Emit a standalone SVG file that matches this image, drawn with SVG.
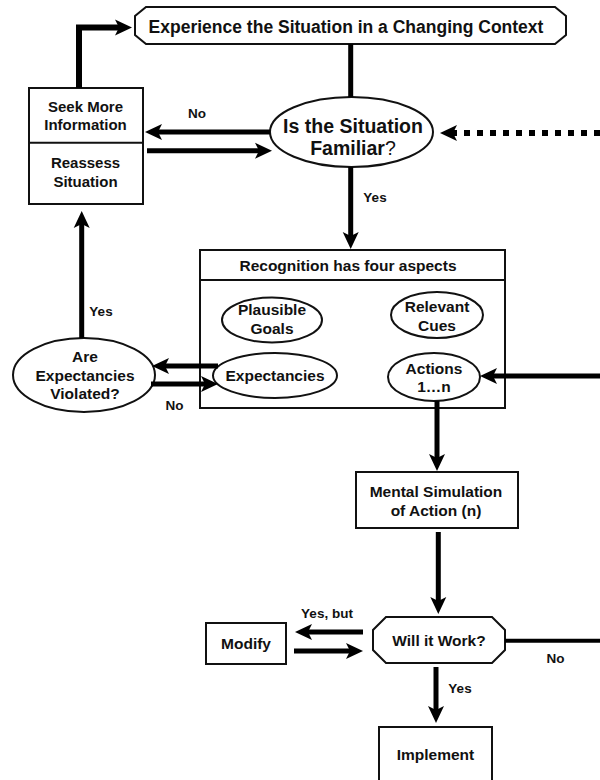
<svg xmlns="http://www.w3.org/2000/svg" width="600" height="780" viewBox="0 0 600 780">
<style>
.bx{fill:#fff;stroke:#111;stroke-width:2}
.t{font-family:"Liberation Sans",Arial,sans-serif;font-weight:bold;font-size:15.5px;fill:#111;text-anchor:middle}
.lb{font-family:"Liberation Sans",Arial,sans-serif;font-weight:bold;font-size:13.5px;fill:#111;text-anchor:middle}
.c{fill:none;stroke:#000;stroke-width:5}
</style>
<defs>
<marker id="ah" markerUnits="userSpaceOnUse" markerWidth="40" markerHeight="40" viewBox="-10 -20 40 40" refX="0" refY="0" orient="auto" overflow="visible">
<path d="M13,0 L-4,-8 L0,0 L-4,8 Z" fill="#000"/>
</marker>
</defs>
<rect width="600" height="780" fill="#fff"/>

<g id="experience">
<path class="bx" d="M146,7 H555 L566,16 V35 L555,44 H146 L135,35 V16 Z"/>
<text class="t" x="346" y="32.5" style="font-size:17.5px">Experience the Situation in a Changing Context</text>
</g>

<g id="familiar">
<ellipse class="bx" cx="351.5" cy="132" rx="81.5" ry="35"/>
<text class="t" x="353" y="133" style="font-size:19.5px">Is the Situation</text>
<text class="t" x="353" y="155" style="font-size:19.5px">Familiar<tspan style="font-weight:normal">?</tspan></text>
</g>

<g id="seek">
<rect class="bx" x="29" y="88" width="114" height="116"/>
<line x1="29" y1="142.7" x2="143" y2="142.7" stroke="#111" stroke-width="2"/>
<text class="t" x="85.5" y="111.5" style="font-size:15px">Seek More</text>
<text class="t" x="85.5" y="130" style="font-size:15px">Information</text>
<text class="t" x="85.5" y="168" style="font-size:15px">Reassess</text>
<text class="t" x="85.5" y="187" style="font-size:15px">Situation</text>
</g>

<g id="recognition">
<rect class="bx" x="200" y="250" width="305" height="158"/>
<line x1="200" y1="280" x2="505" y2="280" stroke="#111" stroke-width="2"/>
<text class="t" x="348" y="271">Recognition has four aspects</text>
</g>

<g id="goals">
<ellipse class="bx" cx="272" cy="320" rx="50" ry="22.5"/>
<text class="t" x="272" y="315">Plausible</text>
<text class="t" x="272" y="334">Goals</text>
</g>

<g id="cues">
<ellipse class="bx" cx="437" cy="315" rx="46" ry="23"/>
<text class="t" x="437" y="312">Relevant</text>
<text class="t" x="437" y="331">Cues</text>
</g>

<g id="expectancies">
<ellipse class="bx" cx="275" cy="375.5" rx="62" ry="22.5"/>
<text class="t" x="275" y="380.5">Expectancies</text>
</g>

<g id="actions">
<ellipse class="bx" cx="434" cy="377" rx="46" ry="24"/>
<text class="t" x="434" y="373.5">Actions</text>
<text class="t" x="434" y="392">1…n</text>
</g>

<g id="violated">
<ellipse class="bx" cx="84" cy="375" rx="71" ry="37"/>
<text class="t" x="85" y="362">Are</text>
<text class="t" x="85" y="380.5">Expectancies</text>
<text class="t" x="85" y="399">Violated?</text>
</g>

<g id="mental">
<rect class="bx" x="356" y="472" width="162" height="56"/>
<text class="t" x="436" y="497">Mental Simulation</text>
<text class="t" x="436" y="515.5">of Action (n)</text>
</g>

<g id="work">
<path class="bx" d="M386,617 H492 L505,630 V650 L492,663 H386 L373,650 V630 Z"/>
<text class="t" x="439" y="646">Will it Work?</text>
</g>

<g id="modify">
<rect class="bx" x="206" y="623" width="80" height="41"/>
<text class="t" x="246" y="649">Modify</text>
</g>

<g id="implement">
<rect class="bx" x="379" y="727" width="113" height="70"/>
<text class="t" x="435.5" y="760">Implement</text>
</g>

<g id="connectors">
<path class="c" style="stroke-width:6" d="M79,88 V27.5 H119" marker-end="url(#ah)"/>
<line class="c" x1="350.7" y1="44" x2="350.7" y2="97"/>
<line class="c" x1="270" y1="132" x2="158" y2="132" marker-end="url(#ah)"/>
<line class="c" x1="147" y1="150.7" x2="259" y2="150.7" marker-end="url(#ah)"/>
<line class="c" style="stroke-width:6;stroke-dasharray:6 7" x1="600" y1="133" x2="453" y2="133" marker-end="url(#ah)"/>
<line class="c" x1="350.7" y1="167" x2="350.7" y2="236" marker-end="url(#ah)"/>
<line class="c" x1="81.7" y1="338" x2="81.7" y2="224" marker-end="url(#ah)"/>
<line class="c" x1="218" y1="366" x2="165" y2="366" marker-end="url(#ah)"/>
<line class="c" x1="151" y1="384" x2="205" y2="384" marker-end="url(#ah)"/>
<line class="c" x1="600" y1="376" x2="493" y2="376" marker-end="url(#ah)"/>
<line class="c" x1="437" y1="401" x2="437" y2="458" marker-end="url(#ah)"/>
<line class="c" x1="438.3" y1="532" x2="438.3" y2="601" marker-end="url(#ah)"/>
<line class="c" x1="363" y1="632" x2="308" y2="632" marker-end="url(#ah)"/>
<line class="c" x1="294" y1="651" x2="350" y2="651" marker-end="url(#ah)"/>
<line class="c" style="stroke-width:4" x1="505" y1="640.7" x2="600" y2="640.7"/>
<line class="c" x1="436" y1="667" x2="436" y2="710" marker-end="url(#ah)"/>
<text class="lb" x="197" y="118">No</text>
<text class="lb" x="375" y="202">Yes</text>
<text class="lb" x="101" y="316">Yes</text>
<text class="lb" x="174.5" y="410">No</text>
<text class="lb" x="327" y="618">Yes, but</text>
<text class="lb" x="555.5" y="663">No</text>
<text class="lb" x="460" y="693">Yes</text>
</g>
</svg>
